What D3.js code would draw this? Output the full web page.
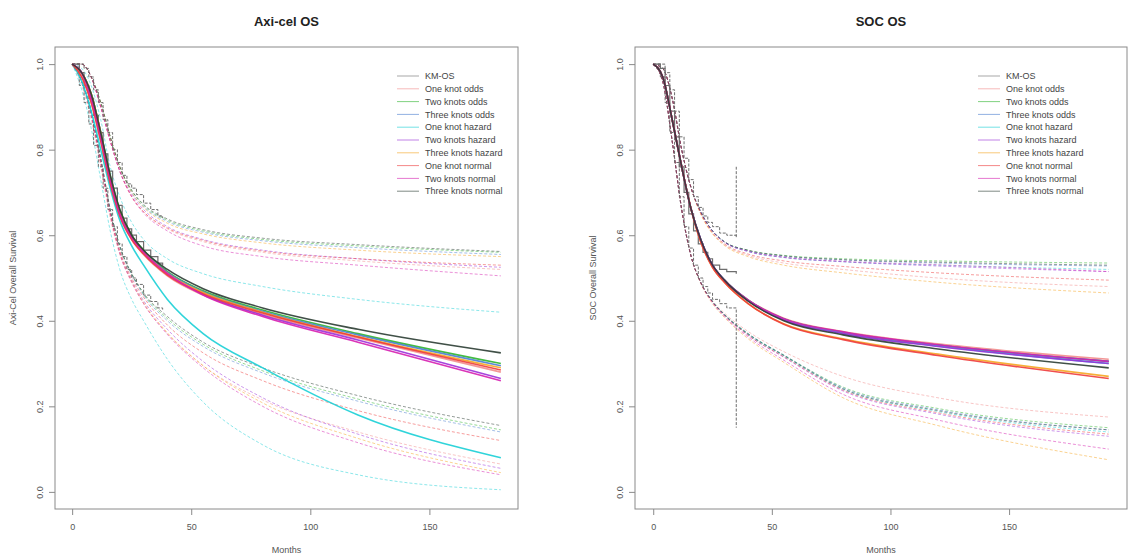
<!DOCTYPE html>
<html>
<head>
<meta charset="utf-8">
<script src="https://cdn.jsdelivr.net/npm/d3@7"></script>
<style>
  body { margin: 0; background: #fff; }
  text { font-family: "Liberation Sans", Arial, sans-serif; }
</style>
</head>
<body>
<div id="chart"></div>
<script>
// ---- data ----
const models = ["One knot odds", "Two knots odds", "Three knots odds", "One knot hazard",
  "Two knots hazard", "Three knots hazard", "One knot normal", "Two knots normal", "Three knots normal"];
const legendLabels = ["KM-OS"].concat(models);
const modelColors = ["#f28c8c", "#2fb52f", "#4a7fd0", "#19cfd6", "#9b30d9", "#f5a623", "#ee3b3b", "#d61fb0", "#2b3d33"];
const kmColor = "#6e6e6e";

const xTicks = [0, 50, 100, 150];
const yTicks = [0, 0.2, 0.4, 0.6, 0.8, 1.0];

const axiMonths = [0, 4, 8, 12, 16, 20, 25, 30, 40, 55, 80, 120, 180];
const socMonths = [0, 4, 8, 12, 16, 20, 25, 30, 40, 55, 80, 120, 192];

// Axi-cel: Kaplan-Meier with CI
const axiKmT   = [0, 3, 5, 7, 9, 11, 13, 15, 17, 19, 21, 23, 25, 27, 30, 33, 36, 38];
const axiKmEst = [1, 0.98, 0.95, 0.92, 0.88, 0.84, 0.79, 0.75, 0.71, 0.67, 0.64, 0.615, 0.6, 0.585, 0.565, 0.55, 0.535, 0.53];
const axiKmHi  = [1, 1, 0.99, 0.97, 0.94, 0.91, 0.87, 0.84, 0.8, 0.77, 0.74, 0.72, 0.71, 0.695, 0.675, 0.66, 0.645, 0.64];
const axiKmLo  = [1, 0.95, 0.91, 0.86, 0.81, 0.76, 0.71, 0.66, 0.62, 0.58, 0.55, 0.52, 0.5, 0.485, 0.46, 0.445, 0.43, 0.425];

// Axi-cel: spline models, one row per model (legend order)
const axiEst = [
  [1, 0.97, 0.91, 0.82, 0.72, 0.645, 0.59, 0.555, 0.505, 0.46, 0.415, 0.36, 0.28],
  [1, 0.98, 0.93, 0.84, 0.74, 0.66, 0.6, 0.565, 0.515, 0.47, 0.425, 0.37, 0.3],
  [1, 0.98, 0.93, 0.84, 0.735, 0.655, 0.598, 0.562, 0.513, 0.468, 0.422, 0.367, 0.295],
  [1, 0.96, 0.89, 0.8, 0.71, 0.635, 0.575, 0.53, 0.45, 0.37, 0.29, 0.18, 0.08],
  [1, 0.98, 0.92, 0.83, 0.73, 0.65, 0.595, 0.56, 0.51, 0.462, 0.413, 0.355, 0.265],
  [1, 0.98, 0.93, 0.84, 0.735, 0.655, 0.597, 0.561, 0.511, 0.466, 0.42, 0.363, 0.29],
  [1, 0.97, 0.91, 0.82, 0.72, 0.645, 0.59, 0.556, 0.507, 0.463, 0.418, 0.362, 0.285],
  [1, 0.98, 0.92, 0.83, 0.73, 0.65, 0.595, 0.56, 0.51, 0.46, 0.41, 0.35, 0.26],
  [1, 0.98, 0.93, 0.84, 0.74, 0.66, 0.6, 0.565, 0.52, 0.475, 0.43, 0.38, 0.325]
];
const axiHi = [
  [1, 1, 0.97, 0.9, 0.82, 0.75, 0.69, 0.655, 0.615, 0.585, 0.56, 0.54, 0.52],
  [1, 1, 0.97, 0.91, 0.83, 0.76, 0.705, 0.67, 0.635, 0.61, 0.59, 0.575, 0.56],
  [1, 1, 0.97, 0.91, 0.83, 0.76, 0.7, 0.667, 0.632, 0.607, 0.587, 0.571, 0.555],
  [1, 0.99, 0.95, 0.87, 0.76, 0.69, 0.63, 0.59, 0.545, 0.51, 0.48, 0.45, 0.42],
  [1, 1, 0.97, 0.9, 0.82, 0.75, 0.695, 0.66, 0.62, 0.59, 0.565, 0.545, 0.525],
  [1, 1, 0.97, 0.91, 0.83, 0.76, 0.7, 0.665, 0.628, 0.603, 0.582, 0.565, 0.55],
  [1, 1, 0.97, 0.9, 0.82, 0.75, 0.69, 0.655, 0.617, 0.588, 0.563, 0.545, 0.53],
  [1, 1, 0.97, 0.9, 0.82, 0.75, 0.69, 0.652, 0.61, 0.575, 0.55, 0.53, 0.505],
  [1, 1, 0.97, 0.91, 0.83, 0.76, 0.705, 0.672, 0.638, 0.613, 0.593, 0.578, 0.562]
];
const axiLo = [
  [1, 0.95, 0.87, 0.76, 0.64, 0.555, 0.49, 0.44, 0.37, 0.295, 0.215, 0.14, 0.065],
  [1, 0.96, 0.89, 0.78, 0.66, 0.575, 0.51, 0.463, 0.405, 0.345, 0.283, 0.217, 0.145],
  [1, 0.96, 0.89, 0.78, 0.66, 0.573, 0.507, 0.46, 0.4, 0.34, 0.278, 0.212, 0.14],
  [1, 0.94, 0.85, 0.73, 0.61, 0.52, 0.45, 0.4, 0.31, 0.21, 0.11, 0.04, 0.005],
  [1, 0.96, 0.88, 0.77, 0.65, 0.56, 0.495, 0.447, 0.38, 0.305, 0.22, 0.135, 0.055],
  [1, 0.96, 0.88, 0.77, 0.65, 0.56, 0.493, 0.443, 0.372, 0.295, 0.208, 0.125, 0.045],
  [1, 0.96, 0.88, 0.77, 0.65, 0.565, 0.5, 0.455, 0.39, 0.325, 0.26, 0.19, 0.12],
  [1, 0.96, 0.88, 0.77, 0.65, 0.558, 0.49, 0.44, 0.368, 0.29, 0.2, 0.115, 0.04],
  [1, 0.96, 0.89, 0.78, 0.66, 0.575, 0.51, 0.465, 0.41, 0.35, 0.29, 0.225, 0.155]
];

// SOC: Kaplan-Meier with CI (last time repeated for the final CI jump)
const socKmT   = [0, 3, 5, 7, 9, 11, 13, 15, 17, 19, 21, 23, 25, 28, 31, 35, 35];
const socKmEst = [1, 0.99, 0.95, 0.89, 0.83, 0.76, 0.7, 0.65, 0.61, 0.58, 0.56, 0.545, 0.53, 0.52, 0.515, 0.51, 0.51];
const socKmHi  = [1, 1, 0.98, 0.94, 0.89, 0.83, 0.78, 0.73, 0.69, 0.665, 0.645, 0.63, 0.62, 0.605, 0.6, 0.595, 0.76];
const socKmLo  = [1, 0.97, 0.91, 0.84, 0.77, 0.69, 0.62, 0.57, 0.53, 0.5, 0.48, 0.465, 0.45, 0.44, 0.43, 0.43, 0.15];

const socEst = [
  [1, 0.97, 0.87, 0.76, 0.66, 0.59, 0.53, 0.495, 0.449, 0.406, 0.375, 0.346, 0.31],
  [1, 0.97, 0.87, 0.76, 0.66, 0.59, 0.53, 0.495, 0.448, 0.404, 0.373, 0.343, 0.305],
  [1, 0.97, 0.87, 0.76, 0.66, 0.59, 0.53, 0.495, 0.448, 0.404, 0.373, 0.343, 0.305],
  [1, 0.97, 0.87, 0.76, 0.66, 0.59, 0.53, 0.495, 0.447, 0.403, 0.371, 0.341, 0.3],
  [1, 0.97, 0.87, 0.76, 0.66, 0.59, 0.53, 0.495, 0.447, 0.402, 0.37, 0.34, 0.3],
  [1, 0.97, 0.87, 0.76, 0.66, 0.585, 0.525, 0.49, 0.44, 0.393, 0.358, 0.322, 0.27],
  [1, 0.97, 0.87, 0.76, 0.66, 0.585, 0.525, 0.49, 0.44, 0.392, 0.356, 0.319, 0.265],
  [1, 0.97, 0.87, 0.76, 0.66, 0.59, 0.53, 0.495, 0.448, 0.405, 0.374, 0.344, 0.305],
  [1, 0.97, 0.87, 0.76, 0.66, 0.59, 0.53, 0.495, 0.446, 0.4, 0.367, 0.334, 0.29]
];
const socHi = [
  [1, 0.99, 0.92, 0.8, 0.71, 0.65, 0.605, 0.578, 0.553, 0.535, 0.52, 0.5, 0.48],
  [1, 0.99, 0.92, 0.8, 0.71, 0.655, 0.61, 0.585, 0.565, 0.553, 0.545, 0.54, 0.535],
  [1, 0.99, 0.92, 0.8, 0.71, 0.655, 0.61, 0.585, 0.564, 0.551, 0.542, 0.535, 0.528],
  [1, 0.99, 0.92, 0.8, 0.71, 0.655, 0.61, 0.584, 0.562, 0.548, 0.538, 0.53, 0.52],
  [1, 0.99, 0.92, 0.8, 0.71, 0.655, 0.61, 0.584, 0.562, 0.548, 0.538, 0.528, 0.515],
  [1, 0.99, 0.92, 0.8, 0.71, 0.65, 0.603, 0.576, 0.55, 0.53, 0.512, 0.49, 0.465],
  [1, 0.99, 0.92, 0.8, 0.71, 0.652, 0.606, 0.58, 0.556, 0.54, 0.527, 0.512, 0.495],
  [1, 0.99, 0.92, 0.8, 0.71, 0.655, 0.61, 0.584, 0.563, 0.549, 0.539, 0.531, 0.515],
  [1, 0.99, 0.92, 0.8, 0.71, 0.655, 0.61, 0.585, 0.565, 0.552, 0.543, 0.537, 0.53]
];
const socLo = [
  [1, 0.96, 0.82, 0.66, 0.55, 0.49, 0.447, 0.418, 0.375, 0.328, 0.27, 0.22, 0.175],
  [1, 0.96, 0.82, 0.66, 0.55, 0.49, 0.445, 0.415, 0.37, 0.32, 0.245, 0.195, 0.15],
  [1, 0.96, 0.82, 0.66, 0.55, 0.49, 0.445, 0.415, 0.37, 0.32, 0.243, 0.192, 0.145],
  [1, 0.96, 0.82, 0.66, 0.55, 0.49, 0.445, 0.414, 0.368, 0.318, 0.24, 0.188, 0.14],
  [1, 0.96, 0.82, 0.66, 0.55, 0.49, 0.444, 0.413, 0.366, 0.315, 0.236, 0.182, 0.13],
  [1, 0.96, 0.82, 0.66, 0.55, 0.488, 0.44, 0.408, 0.358, 0.303, 0.22, 0.155, 0.075],
  [1, 0.96, 0.82, 0.66, 0.55, 0.49, 0.444, 0.413, 0.366, 0.316, 0.238, 0.185, 0.135],
  [1, 0.96, 0.82, 0.66, 0.55, 0.489, 0.442, 0.41, 0.362, 0.308, 0.228, 0.168, 0.1],
  [1, 0.96, 0.82, 0.66, 0.55, 0.49, 0.445, 0.414, 0.369, 0.319, 0.241, 0.19, 0.145]
];

// ---- drawing ----
const svg = d3.select("#chart").append("svg")
  .attr("width", 1132)
  .attr("height", 559);

const plotTop = 47, plotBottom = 509;

function drawPanel(p) {
  const x = d3.scaleLinear().domain(p.xDomain).range([p.left, p.right]);
  const y = d3.scaleLinear().domain([-0.04, 1.04]).range([plotBottom, plotTop]);
  const g = svg.append("g");

  const clipId = "clip-" + p.id;
  g.append("clipPath").attr("id", clipId)
    .append("rect").attr("x", p.left).attr("y", plotTop)
    .attr("width", p.right - p.left).attr("height", plotBottom - plotTop);

  const plot = g.append("g").attr("clip-path", `url(#${clipId})`);

  const smooth = d3.line()
    .x(d => x(d[0])).y(d => y(d[1]))
    .curve(d3.curveMonotoneX);
  const step = d3.line()
    .x(d => x(d[0])).y(d => y(d[1]))
    .curve(d3.curveStepAfter);

  const pairs = vals => p.months.map((m, i) => [m, vals[i]]);

  // confidence curves (dashed, light)
  [p.hi, p.lo].forEach(set => {
    set.forEach((vals, k) => {
      plot.append("path")
        .attr("d", smooth(pairs(vals)))
        .attr("fill", "none")
        .attr("stroke", modelColors[k])
        .attr("stroke-width", 1)
        .attr("stroke-dasharray", "3,2")
        .attr("opacity", 0.5);
    });
  });

  // Kaplan-Meier steps
  const km = vals => p.kmT.map((t, i) => [t, vals[i]]);
  [p.kmHi, p.kmLo].forEach(vals => {
    plot.append("path")
      .attr("d", step(km(vals)))
      .attr("fill", "none")
      .attr("stroke", kmColor)
      .attr("stroke-width", 1)
      .attr("stroke-dasharray", "3,1.5");
  });
  plot.append("path")
    .attr("d", step(km(p.kmEst)))
    .attr("fill", "none")
    .attr("stroke", kmColor)
    .attr("stroke-width", 1.2);

  // fitted curves (solid)
  p.est.forEach((vals, k) => {
    plot.append("path")
      .attr("d", smooth(pairs(vals)))
      .attr("fill", "none")
      .attr("stroke", modelColors[k])
      .attr("stroke-width", 1.6)
      .attr("opacity", 0.9);
  });

  // box
  g.append("rect")
    .attr("x", p.left).attr("y", plotTop)
    .attr("width", p.right - p.left).attr("height", plotBottom - plotTop)
    .attr("fill", "none").attr("stroke", "#8a8a8a");

  // axes
  const xAxis = g.append("g")
    .attr("transform", `translate(0,${plotBottom})`)
    .call(d3.axisBottom(x).tickValues(xTicks).tickFormat(d3.format("d")).tickSize(6).tickPadding(9));
  xAxis.select(".domain").remove();
  xAxis.selectAll("line").attr("stroke", "#8a8a8a");
  xAxis.selectAll("text").attr("fill", "#555").style("font-size", "9px");

  const yAxis = g.append("g")
    .attr("transform", `translate(${p.left},0)`)
    .call(d3.axisLeft(y).tickValues(yTicks).tickFormat(d3.format(".1f")).tickSize(6).tickPadding(0));
  yAxis.select(".domain").remove();
  yAxis.selectAll("line").attr("stroke", "#8a8a8a");
  yAxis.selectAll("text")
    .attr("fill", "#555").style("font-size", "9px")
    .attr("text-anchor", "middle")
    .attr("x", 0).attr("dy", 0)
    .attr("transform", "translate(-15,0) rotate(-90)")
    .attr("y", 3);

  // titles
  const cx = (p.left + p.right) / 2;
  g.append("text").attr("x", cx).attr("y", 26)
    .attr("text-anchor", "middle").style("font-size", "13px").style("font-weight", "bold")
    .attr("fill", "#222").text(p.title);
  g.append("text").attr("x", cx).attr("y", 553)
    .attr("text-anchor", "middle").style("font-size", "9px").attr("fill", "#555").text("Months");
  g.append("text")
    .attr("transform", `translate(${p.left - 39},${(plotTop + plotBottom) / 2}) rotate(-90)`)
    .attr("text-anchor", "middle").style("font-size", "9px").attr("fill", "#555").text(p.yLabel);

  // legend
  const leg = g.append("g").attr("transform", `translate(${p.legendX},76)`);
  legendLabels.forEach((lab, i) => {
    const row = leg.append("g").attr("transform", `translate(0,${i * 12.8})`);
    row.append("line").attr("x1", 0).attr("x2", 22).attr("y1", 0).attr("y2", 0)
      .attr("stroke", i === 0 ? kmColor : modelColors[i - 1])
      .attr("stroke-width", 1).attr("opacity", 0.6);
    row.append("text").attr("x", 28).attr("y", 3.2)
      .style("font-size", "9px").attr("fill", "#444").text(lab);
  });
}

drawPanel({
  id: "axi", title: "Axi-cel OS", yLabel: "Axi-Cel Overall Survival",
  left: 55, right: 518, xDomain: [-7.2, 187.2], legendX: 397,
  months: axiMonths, est: axiEst, hi: axiHi, lo: axiLo,
  kmT: axiKmT, kmEst: axiKmEst, kmHi: axiKmHi, kmLo: axiKmLo
});

drawPanel({
  id: "soc", title: "SOC OS", yLabel: "SOC Overall Survival",
  left: 635, right: 1127, xDomain: [-7.68, 199.7], legendX: 978,
  months: socMonths, est: socEst, hi: socHi, lo: socLo,
  kmT: socKmT, kmEst: socKmEst, kmHi: socKmHi, kmLo: socKmLo
});
</script>
</body>
</html>
